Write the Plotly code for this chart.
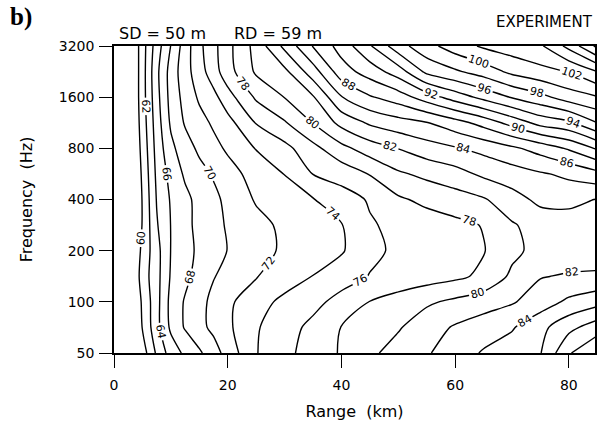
import plotly.graph_objects as go

# Measured transmission loss (dB) on a range x frequency grid
RANGE_KM = [0, 2.5, 5, 7.5, 10, 12.5, 15, 17.5, 20, 25, 30, 35, 40, 45,
            50, 55, 60, 65, 70, 75, 80, 85]
FREQ_HZ = [50, 71, 100, 141, 200, 283, 400, 566, 800, 1131, 1600, 2263, 3200]

# one row per frequency (low to high), one value per range column
TL_DB = [
    [55, 57, 59.0, 62.3, 64.9, 66.4, 67.7, 69.1, 70.8, 73.9, 75.5, 76.8, 78.2, 79.6, 80.8, 81.8, 83.0, 84.2, 85.0, 85.9, 89.8, 92.0],
    [55, 57, 60.1, 63.3, 66.4, 68.2, 69.4, 70.5, 71.6, 73.8, 75.2, 76.5, 78.05, 78.9, 79.8, 81.1, 82.2, 83.0, 83.8, 85.4, 87.4, 89.0],
    [55, 57, 60.3, 63.3, 66.6, 68.2, 69.4, 70.5, 71.6, 73.2, 74.5, 75.4, 76.7, 78.05, 78.9, 79.7, 80.4, 81.1, 81.8, 83.0, 84.4, 85.3],
    [55, 57, 60.9, 63.3, 66.2, 67.5, 68.8, 69.9, 70.6, 71.9, 73.0, 74.05, 75.1, 76.1, 76.6, 77.1, 77.6, 78.4, 80.4, 81.9, 82.2, 82.3],
    [55, 57, 60.5, 63.3, 66.05, 67.3, 68.4, 69.2, 70.05, 71.3, 72.3, 73.1, 73.8, 75.5, 76.4, 76.9, 77.4, 77.9, 79.5, 80.7, 80.9, 81.0],
    [55, 57, 60.1, 63.8, 66.05, 67.5, 68.5, 69.4, 70.2, 71.4, 72.4, 73.1, 73.9, 75.8, 76.5, 77.0, 77.5, 78.1, 79.8, 80.8, 80.8, 81.0],
    [55, 57, 60.1, 64.1, 66.2, 67.5, 68.6, 69.5, 70.5, 72.2, 73.0, 73.9, 75.1, 76.2, 77.7, 78.5, 79.1, 79.8, 81.2, 82.5, 82.7, 81.9],
    [55, 57, 60.3, 64.4, 66.7, 68.3, 69.3, 70.2, 71.2, 72.8, 74.05, 76.05, 76.8, 78.1, 79.7, 80.5, 81.25, 82.4, 83.1, 83.8, 84.4, 85.4],
    [55, 57, 60.6, 64.7, 67.5, 69.1, 70.4, 71.4, 72.3, 74.1, 75.4, 77.4, 79.4, 81.0, 82.05, 83.1, 83.8, 84.6, 85.6, 86.8, 88.25, 90.25],
    [55, 57, 60.9, 65.0, 68.3, 70.2, 71.3, 72.3, 73.3, 76.1, 77.8, 80.05, 82.6, 84.3, 85.2, 85.9, 87.2, 88.75, 90.75, 92.7, 93.6, 96.0],
    [55, 57, 61.1, 65.3, 68.7, 70.7, 72.3, 73.4, 75.2, 78.3, 80.05, 81.8, 85.9, 87.8, 89.0, 91.0, 92.9, 94.6, 96.15, 97.4, 99.0, 99.85],
    [55, 57, 61.1, 65.5, 68.8, 71.2, 73.1, 75.1, 77.2, 80.3, 81.5, 85.1, 89.1, 90.9, 93.0, 96.5, 97.7, 98.9, 100.5, 101.4, 102.1, 104.0],
    [55, 57, 61.1, 65.0, 68.05, 71.0, 73.5, 75.4, 77.4, 80.7, 84.5, 88.1, 90.8, 93.8, 97.2, 99.3, 101.0, 102.3, 103.0, 103.7, 106.6, 110.5],
]

X_TICKS = [0, 20, 40, 60, 80]
Y_TICKS = [50, 100, 200, 400, 800, 1600, 3200]
Y_TICK_TEXT = ["50", "100", "200", "400", "800", "1600", "3200"]

FONT = "DejaVu Sans"

fig = go.Figure()
fig.add_trace(go.Contour(
    x=RANGE_KM, y=FREQ_HZ, z=TL_DB,
    autocontour=False,
    contours=dict(start=60, end=110, size=2, coloring="lines",
                  showlabels=True,
                  labelfont=dict(family=FONT, size=11, color="black")),
    line=dict(width=1.4, smoothing=0.8),
    colorscale=[[0, "black"], [1, "black"]],
    showscale=False, hoverinfo="skip",
))

axis_common = dict(
    showline=True, linecolor="black", linewidth=1.5, mirror=True,
    ticks="outside", ticklen=13, tickwidth=1.4, tickcolor="black",
    showgrid=False, zeroline=False,
    tickfont=dict(family=FONT, size=14, color="black"),
)

fig.update_xaxes(range=[0, 84.6], tickvals=X_TICKS, ticklabelstandoff=5,
                 title=dict(text="Range  (km)", standoff=14,
                            font=dict(family=FONT, size=16, color="black")),
                 **axis_common)
fig.update_yaxes(type="log", range=[1.69897, 3.50515], tickvals=Y_TICKS,
                 ticktext=Y_TICK_TEXT, ticklabelstandoff=2,
                 title=dict(text="Frequency  (Hz)", standoff=22,
                            font=dict(family=FONT, size=16, color="black")),
                 **axis_common)

fig.add_annotation(text="<b>b)</b>", xref="paper", yref="paper",
                   x=-0.22, y=1.0, yshift=29, xanchor="left", yanchor="middle",
                   showarrow=False,
                   font=dict(family="Liberation Serif", size=25, color="black"))
fig.add_annotation(text="SD = 50 m", xref="paper", yref="paper",
                   x=0.0, y=1.0, xshift=3, yshift=13, xanchor="left",
                   yanchor="middle", showarrow=False,
                   font=dict(family=FONT, size=16, color="black"))
fig.add_annotation(text="RD = 59 m", xref="paper", yref="paper",
                   x=0.0, y=1.0, xshift=118, yshift=13, xanchor="left",
                   yanchor="middle", showarrow=False,
                   font=dict(family=FONT, size=16, color="black"))
fig.add_annotation(text="EXPERIMENT", xref="paper", yref="paper",
                   x=1.0, y=1.0, yshift=24, xanchor="right",
                   yanchor="middle", showarrow=False,
                   font=dict(family=FONT, size=15, color="black"))

fig.update_layout(
    width=602, height=431,
    margin=dict(l=114, r=5, t=46, b=78),
    plot_bgcolor="white", paper_bgcolor="white",
    font=dict(family=FONT, size=13, color="black"),
    showlegend=False,
)

fig.write_html("out.html")
